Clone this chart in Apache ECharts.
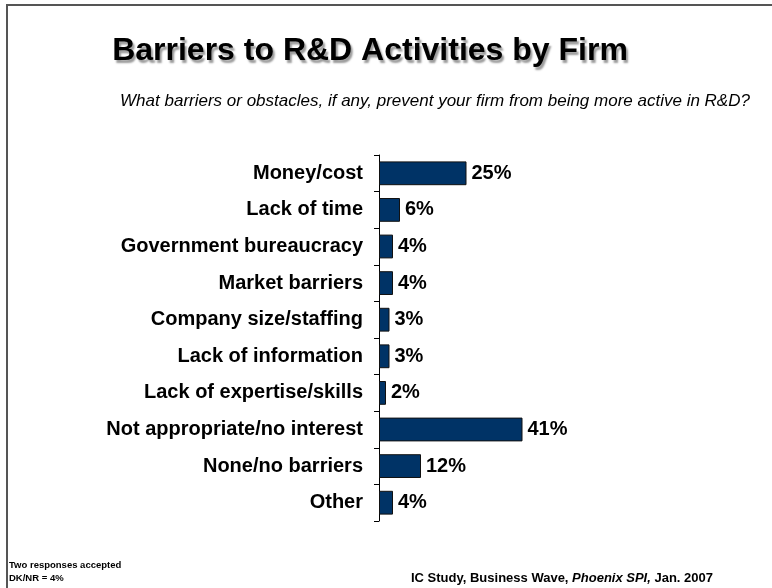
<!DOCTYPE html>
<html>
<head>
<meta charset="utf-8">
<script src="https://cdn.jsdelivr.net/npm/echarts@6/dist/echarts.min.js"></script>
<style>
  html, body { margin: 0; padding: 0; background: #ffffff; }
  #chart { width: 772px; height: 588px; }
</style>
</head>
<body>
<div id="chart"></div>
<script>
// Survey answers, listed top to bottom
const categories = [
  'Money/cost',
  'Lack of time',
  'Government bureaucracy',
  'Market barriers',
  'Company size/staffing',
  'Lack of information',
  'Lack of expertise/skills',
  'Not appropriate/no interest',
  'None/no barriers',
  'Other'
];
// Share of firms giving each answer (%)
const shares = [25, 6, 4, 4, 3, 3, 2, 41, 12, 4];

const titleText = 'Barriers to R&D Activities by Firm';
const subtitleText = 'What barriers or obstacles, if any, prevent your firm from being more active in R&D?';
const noteLines = ['Two responses accepted', 'DK/NR = 4%'];

const FONT = '"Liberation Sans", Arial, sans-serif';

const chart = echarts.init(document.getElementById('chart'), null, { renderer: 'canvas' });

chart.setOption({
  animation: false,
  backgroundColor: '#ffffff',
  grid: { left: 379, top: 155, width: 175, height: 366, containLabel: false },
  xAxis: {
    type: 'value',
    min: 0,
    max: 50,
    show: false
  },
  yAxis: {
    type: 'category',
    data: categories,
    inverse: true,
    axisLine: { show: true, lineStyle: { color: '#000000', width: 1 } },
    axisTick: { show: true, inside: false, length: 5, lineStyle: { color: '#000000' } },
    axisLabel: {
      margin: 16,
      color: '#000000',
      fontFamily: FONT,
      fontWeight: 'bold',
      fontSize: 20
    },
    splitLine: { show: false }
  },
  series: [{
    type: 'bar',
    data: shares,
    barCategoryGap: '35%',
    itemStyle: { color: '#003366', borderColor: '#111111', borderWidth: 1 },
    label: {
      show: true,
      position: 'right',
      distance: 5,
      formatter: '{c}%',
      color: '#000000',
      fontFamily: FONT,
      fontWeight: 'bold',
      fontSize: 20
    }
  }],
  graphic: [
    // slide frame: top and left rules
    { type: 'line', shape: { x1: 6, y1: 5, x2: 772, y2: 5 }, style: { stroke: '#555555', lineWidth: 2 } },
    { type: 'line', shape: { x1: 7, y1: 5, x2: 7, y2: 588 }, style: { stroke: '#555555', lineWidth: 2 } },
    {
      type: 'text', x: 370, y: 51,
      style: {
        text: titleText,
        fill: '#000000',
        font: 'bold 32px ' + FONT,
        textAlign: 'center', textVerticalAlign: 'middle',
        textShadowColor: 'rgba(0,0,0,0.4)', textShadowBlur: 2,
        textShadowOffsetX: 2, textShadowOffsetY: 3
      }
    },
    {
      type: 'text', x: 435, y: 101,
      style: {
        text: subtitleText,
        fill: '#000000',
        font: 'italic 17px ' + FONT,
        textAlign: 'center', textVerticalAlign: 'middle'
      }
    },
    {
      type: 'text', x: 9, y: 565,
      style: { text: noteLines[0], fill: '#000000', font: 'bold 9.5px ' + FONT, textVerticalAlign: 'middle' }
    },
    {
      type: 'text', x: 9, y: 578,
      style: { text: noteLines[1], fill: '#000000', font: 'bold 9.5px ' + FONT, textVerticalAlign: 'middle' }
    },
    {
      type: 'text', x: 411, y: 578,
      style: {
        text: '{n|IC Study, Business Wave, }{i|Phoenix SPI,}{n| Jan. 2007}',
        textVerticalAlign: 'middle',
        rich: {
          n: { fontFamily: FONT, fontWeight: 'bold', fontSize: 13, fill: '#000000', color: '#000000' },
          i: { fontFamily: FONT, fontWeight: 'bold', fontStyle: 'italic', fontSize: 13, fill: '#000000', color: '#000000' }
        }
      }
    }
  ]
});
</script>
</body>
</html>
